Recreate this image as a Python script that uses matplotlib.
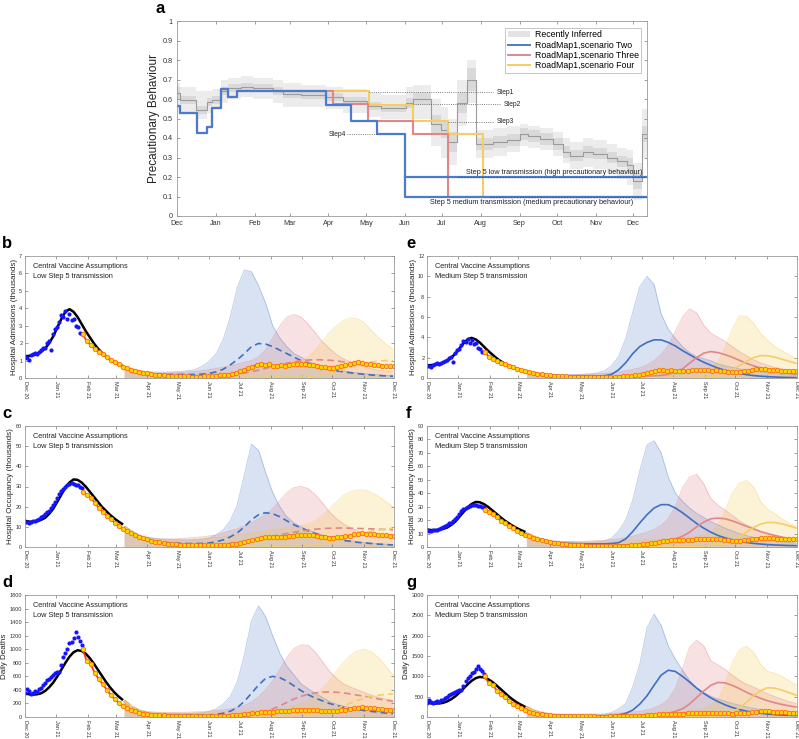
import numpy as np
import matplotlib
matplotlib.use("Agg")
from matplotlib import pyplot as plt
from matplotlib.patches import Patch
from matplotlib.lines import Line2D

plt.rcParams['font.family'] = ['Liberation Sans', 'DejaVu Sans']

# ---------------- panel a data (days since 1 Dec 2020) ----------------
a_month_days = [0, 31, 62, 90, 121, 151, 182, 212, 243, 274, 304, 335, 365]
a_month_labels = ['Dec', 'Jan', 'Feb', 'Mar', 'Apr', 'May', 'Jun', 'Jul', 'Aug',
                  'Sep', 'Oct', 'Nov', 'Dec']

inf_days = [0, 2, 15, 24, 28, 35, 41, 51, 61, 77, 85, 99, 119, 133, 152, 163, 183, 189,
            203, 211, 217, 224, 232, 239, 253, 264, 274, 281, 290, 301, 309, 314, 325,
            333, 344, 352, 360, 365, 372, 376]
inf_mid = [0.63, 0.595, 0.545, 0.585, 0.595, 0.64, 0.655, 0.66, 0.655, 0.64, 0.625, 0.62,
           0.61, 0.59, 0.565, 0.555, 0.58, 0.60, 0.47, 0.44, 0.38, 0.58, 0.70, 0.37, 0.38,
           0.39, 0.42, 0.41, 0.395, 0.37, 0.33, 0.31, 0.33, 0.32, 0.30, 0.28, 0.26, 0.18,
           0.42, 0.42]
inf_inner_lo = [0.60, 0.575, 0.525, 0.565, 0.575, 0.62, 0.635, 0.64, 0.635, 0.62, 0.605,
                0.60, 0.59, 0.57, 0.545, 0.535, 0.555, 0.57, 0.42, 0.40, 0.33, 0.53, 0.64,
                0.34, 0.35, 0.36, 0.39, 0.38, 0.365, 0.34, 0.30, 0.28, 0.30, 0.29, 0.27,
                0.25, 0.22, 0.14, 0.38, 0.38]
inf_inner_hi = [0.66, 0.615, 0.565, 0.605, 0.615, 0.66, 0.675, 0.68, 0.675, 0.66, 0.645,
                0.64, 0.63, 0.61, 0.585, 0.575, 0.605, 0.63, 0.52, 0.48, 0.43, 0.63, 0.76,
                0.40, 0.41, 0.42, 0.45, 0.44, 0.425, 0.40, 0.36, 0.34, 0.36, 0.35, 0.33,
                0.31, 0.30, 0.22, 0.46, 0.46]
inf_outer_lo = [0.55, 0.53, 0.50, 0.53, 0.55, 0.58, 0.60, 0.61, 0.60, 0.58, 0.56, 0.56,
                0.55, 0.53, 0.51, 0.50, 0.50, 0.50, 0.36, 0.30, 0.26, 0.46, 0.58, 0.30,
                0.31, 0.33, 0.36, 0.35, 0.34, 0.31, 0.27, 0.24, 0.25, 0.24, 0.22, 0.19,
                0.16, 0.08, 0.30, 0.30]
inf_outer_hi = [0.68, 0.66, 0.64, 0.64, 0.65, 0.70, 0.71, 0.72, 0.71, 0.70, 0.68, 0.67,
                0.66, 0.65, 0.63, 0.62, 0.66, 0.67, 0.60, 0.56, 0.50, 0.70, 0.80, 0.44,
                0.45, 0.46, 0.47, 0.46, 0.45, 0.43, 0.40, 0.38, 0.40, 0.39, 0.37, 0.35,
                0.34, 0.27, 0.55, 0.55]

rm_blue_days = [0, 2, 16, 24, 28, 35, 41, 48, 119, 139, 160, 182, 376]
rm_blue_vals = [0.565, 0.53, 0.425, 0.455, 0.555, 0.65, 0.61, 0.64, 0.57, 0.485, 0.42, 0.10, 0.10]
rm_red_days = [0, 2, 16, 24, 28, 35, 41, 48, 125, 153, 189, 217, 376]
rm_red_vals = [0.565, 0.53, 0.425, 0.455, 0.555, 0.65, 0.61, 0.64, 0.575, 0.485, 0.42, 0.10, 0.10]
rm_yel_days = [0, 2, 16, 24, 28, 35, 41, 48, 153.5, 188.6, 217, 245, 376]
rm_yel_vals = [0.565, 0.53, 0.425, 0.455, 0.555, 0.65, 0.61, 0.64, 0.57, 0.485, 0.42, 0.10, 0.10]
step5_start, step5_end = 182, 376
step5_low, step5_med = 0.2, 0.1

step_names = ['Step1', 'Step2', 'Step3', 'Step4']
step_levels = [0.635, 0.572, 0.484, 0.418]
step_from = [153.5, 188.6, 217, 136]
step_to = [253, 258, 253, 160]
step_text_x = [256, 261, 256, 135]

# ---------------- projection panels data ----------------
proj_month_labels = ['Dec 20', 'Jan 21', 'Feb 21', 'Mar 21', 'Apr 21', 'May 21', 'Jun 21',
                     'Jul 21', 'Aug 21', 'Sep 21', 'Oct 21', 'Nov 21', 'Dec 21']
proj_days = np.arange(98, 365, 7)          # weekly projection grid, 9 Mar .. 30 Nov
blue_obs_days = np.arange(0, 57, 2)        # older observations
recent_days = np.arange(57, 366, 4)        # recent observations
fit_days = np.arange(0, 97, 4)             # model fit

# admissions (thousands)
adm_blue_obs = [1.2, 1.15, 1.05, 1.3, 1.4, 1.45, 1.35, 1.5, 1.6, 1.7,
                1.75, 2.0, 2.1, 1.6, 2.5, 2.8, 2.9, 3.2, 3.6, 3.5,
                3.85, 3.4, 3.7, 3.35, 3.4, 3.0, 2.9, 2.6, 2.55]
adm_fit = [1.25, 1.27, 1.3, 1.38, 1.5, 1.7, 2.0, 2.4, 2.9, 3.4,
           3.8, 3.95, 3.8, 3.5, 3.1, 2.7, 2.35, 2.0, 1.7, 1.45,
           1.25, 1.07, 0.92, 0.8, 0.7]
adm_recent = [2.55, 2.1, 1.9, 1.65, 1.5, 1.35, 1.2, 1.05, 0.9, 0.78,
              0.65, 0.55, 0.48, 0.42, 0.35, 0.3, 0.26, 0.22, 0.2, 0.17,
              0.15, 0.13, 0.12, 0.11, 0.1, 0.09, 0.09, 0.08, 0.08, 0.08,
              0.09, 0.1, 0.11, 0.13, 0.15, 0.17, 0.2, 0.25, 0.3, 0.38,
              0.48, 0.55, 0.65, 0.75, 0.8, 0.72, 0.78, 0.68, 0.7, 0.72,
              0.7, 0.75, 0.78, 0.8, 0.78, 0.82, 0.72, 0.75, 0.68, 0.65,
              0.62, 0.6, 0.6, 0.62, 0.66, 0.72, 0.8, 0.88, 0.9, 0.85,
              0.82, 0.78, 0.75, 0.72, 0.7, 0.68, 0.67, 0.68]

adm_low_blue_hi = [0.55, 0.45, 0.40, 0.37, 0.35, 0.34, 0.34, 0.35, 0.37, 0.42,
                   0.48, 0.67, 0.95, 1.4, 2.2, 3.5, 5.2, 6.2, 6.1, 5.3,
                   4.3, 3.0, 2.3, 1.8, 1.4, 1.2, 0.95, 0.8, 0.68, 0.56,
                   0.47, 0.4, 0.34, 0.29, 0.25, 0.21, 0.18, 0.15, 0.13]
adm_low_red_hi = [0.45, 0.35, 0.3, 0.28, 0.27, 0.27, 0.28, 0.3, 0.32, 0.35,
                  0.38, 0.42, 0.48, 0.55, 0.62, 0.7, 0.8, 0.9, 1.0, 1.2,
                  1.6, 2.3, 3.0, 3.5, 3.65, 3.5, 3.1, 2.6, 2.1, 1.7,
                  1.35, 1.1, 0.9, 0.75, 0.62, 0.52, 0.45, 0.4, 0.36]
adm_low_yel_hi = [0.45, 0.35, 0.3, 0.27, 0.25, 0.25, 0.25, 0.25, 0.25, 0.25,
                  0.26, 0.27, 0.28, 0.3, 0.32, 0.35, 0.38, 0.42, 0.46, 0.5,
                  0.55, 0.6, 0.65, 0.7, 0.8, 0.95, 1.2, 1.6, 2.1, 2.6,
                  3.0, 3.3, 3.45, 3.4, 3.15, 2.7, 2.3, 1.95, 1.65]
adm_low_blue_med = [0.6, 0.47, 0.37, 0.3, 0.25, 0.22, 0.2, 0.2, 0.2, 0.2,
                    0.2, 0.22, 0.26, 0.35, 0.5, 0.75, 1.05, 1.4, 1.8, 1.98,
                    1.95, 1.8, 1.6, 1.4, 1.2, 1.0, 0.85, 0.72, 0.6, 0.5,
                    0.42, 0.35, 0.3, 0.25, 0.21, 0.17, 0.14, 0.12, 0.1]
adm_low_red_med = [0.6, 0.45, 0.34, 0.26, 0.2, 0.16, 0.13, 0.11, 0.1, 0.1,
                   0.1, 0.1, 0.1, 0.12, 0.14, 0.17, 0.22, 0.28, 0.36, 0.45,
                   0.55, 0.66, 0.76, 0.85, 0.93, 0.99, 1.03, 1.05, 1.04, 1.02,
                   0.98, 0.93, 0.88, 0.82, 0.77, 0.72, 0.67, 0.63, 0.6]
adm_low_yel_med = [0.6, 0.45, 0.33, 0.24, 0.17, 0.12, 0.08, 0.06, 0.05, 0.05,
                   0.05, 0.05, 0.05, 0.05, 0.05, 0.05, 0.05, 0.05, 0.05, 0.05,
                   0.05, 0.05, 0.05, 0.05, 0.05, 0.05, 0.08, 0.12, 0.18, 0.27,
                   0.38, 0.5, 0.62, 0.74, 0.84, 0.92, 0.97, 1.0, 1.0]

adm_med_blue_hi = [0.55, 0.45, 0.4, 0.37, 0.35, 0.34, 0.34, 0.35, 0.37, 0.42,
                   0.5, 0.7, 1.2, 2.1, 3.9, 6.5, 9.0, 10.0, 9.2, 6.3,
                   4.8, 3.9, 3.1, 2.5, 2.1, 1.9, 1.7, 1.4, 1.2, 1.05,
                   0.9, 0.8, 0.7, 0.6, 0.5, 0.42, 0.35, 0.3, 0.25]
adm_med_red_hi = [0.45, 0.35, 0.3, 0.28, 0.27, 0.27, 0.28, 0.3, 0.33, 0.36,
                  0.4, 0.45, 0.5, 0.6, 0.7, 0.85, 1.0, 1.3, 1.7, 2.3,
                  3.2, 4.6, 6.0, 6.8, 6.4, 5.2, 4.4, 4.0, 3.6, 3.1,
                  2.6, 2.2, 1.8, 1.5, 1.25, 1.05, 0.9, 0.8, 0.72]
adm_med_yel_hi = [0.45, 0.35, 0.3, 0.27, 0.25, 0.25, 0.25, 0.25, 0.25, 0.25,
                  0.25, 0.25, 0.25, 0.25, 0.25, 0.25, 0.25, 0.27, 0.3, 0.33,
                  0.37, 0.4, 0.45, 0.5, 0.6, 0.75, 1.0, 1.6, 3.0, 4.8,
                  6.1, 6.1, 5.4, 4.4, 3.7, 3.1, 2.7, 2.3, 1.9]
adm_med_blue_med = [0.6, 0.47, 0.37, 0.3, 0.25, 0.22, 0.2, 0.2, 0.2, 0.2,
                    0.2, 0.22, 0.35, 0.8, 1.5, 2.4, 3.1, 3.5, 3.75, 3.75,
                    3.5, 3.15, 2.7, 2.3, 1.9, 1.55, 1.25, 0.98, 0.76, 0.58,
                    0.44, 0.33, 0.24, 0.18, 0.13, 0.1, 0.07, 0.05, 0.04]
adm_med_red_med = [0.6, 0.45, 0.34, 0.26, 0.22, 0.19, 0.16, 0.14, 0.12, 0.1,
                   0.1, 0.1, 0.1, 0.1, 0.11, 0.12, 0.14, 0.17, 0.2, 0.25,
                   0.35, 0.55, 0.9, 1.45, 2.0, 2.45, 2.6, 2.5, 2.3, 2.05,
                   1.75, 1.45, 1.2, 1.0, 0.82, 0.67, 0.55, 0.45, 0.36]
adm_med_yel_med = [0.6, 0.45, 0.33, 0.25, 0.2, 0.16, 0.13, 0.1, 0.08, 0.07,
                   0.06, 0.05, 0.05, 0.04, 0.04, 0.04, 0.04, 0.04, 0.04, 0.04,
                   0.04, 0.04, 0.04, 0.05, 0.06, 0.08, 0.12, 0.2, 0.4, 0.75,
                   1.2, 1.65, 2.0, 2.2, 2.18, 2.05, 1.85, 1.65, 1.45]

# occupancy (thousands)
occ_blue_obs = [12.5, 12.2, 12.0, 12.3, 12.8, 13.0, 13.5, 14.0, 14.8, 15.5,
                16.5, 17.5, 18.0, 19.5, 21.0, 22.5, 24.5, 26.5, 28.0, 29.0,
                30.0, 30.5, 31.0, 31.5, 31.0, 30.5, 30.5, 30.0, 29.5]
occ_fit = [13, 12.6, 12.5, 12.8, 13.5, 14.5, 16.5, 19, 22.5, 26,
           29.5, 32, 33.5, 33.3, 32, 30, 27.5, 25, 22.5, 20,
           18, 16, 14.3, 12.8, 11.5]
occ_recent = [27.5, 26, 24.5, 22, 19.5, 17.5, 15.5, 14, 12, 10.5,
              9, 8, 7, 6, 5.2, 4.5, 3.8, 3.2, 2.7, 2.3,
              2, 1.7, 1.5, 1.3, 1.2, 1.1, 1, 0.9, 0.85, 0.8,
              0.8, 0.8, 0.85, 0.9, 1, 1.1, 1.2, 1.4, 1.6, 1.9,
              2.3, 2.8, 3.3, 3.9, 4.4, 4.8, 5, 5, 4.9, 5,
              5.2, 5.4, 5.6, 5.8, 6, 6.1, 6, 5.9, 5.6, 5.2,
              4.9, 4.7, 4.7, 4.8, 5, 5.3, 5.7, 6.2, 6.5, 6.7,
              6.6, 6.4, 6.2, 6, 5.9, 5.8, 5.7, 5.6]

occ_low_blue_hi = [10, 7.5, 6, 5, 4.5, 4, 3.8, 3.6, 3.5, 3.5,
                   3.6, 3.9, 4.5, 6, 8.5, 13, 21, 36, 51, 48,
                   37, 27, 20, 15, 12, 10, 8.5, 7.2, 6, 5,
                   4.2, 3.6, 3.1, 2.6, 2.2, 1.9, 1.6, 1.4, 1.2]
occ_low_red_hi = [8, 6, 5, 4.5, 4.2, 4, 4, 4, 4.2, 4.5,
                  4.8, 5, 5.5, 6, 7, 8, 9, 10.5, 12, 14,
                  16, 19, 23, 27, 29.5, 30, 29, 26, 22, 17.5,
                  14, 11.5, 9.5, 8, 7, 6, 5.3, 4.8, 4.4]
occ_low_yel_hi = [8, 6, 5, 4.3, 4, 3.8, 3.7, 3.6, 3.6, 3.7,
                  3.8, 4, 4.3, 4.6, 5, 5.5, 6, 6.5, 7, 7.5,
                  8, 8.5, 9, 9.5, 10, 10.5, 11.5, 13, 15.5, 19,
                  22.5, 25.5, 27.5, 28.3, 28.3, 27, 25, 22.5, 20]
occ_low_blue_med = [10, 7.5, 5.5, 4, 3.2, 2.6, 2.2, 2, 1.8, 1.7,
                    1.7, 1.8, 2, 2.6, 3.5, 5, 7, 10, 13.5, 16,
                    17, 16.5, 15, 13, 11, 9.5, 8, 6.7, 5.6, 4.7,
                    3.9, 3.3, 2.8, 2.3, 2, 1.7, 1.4, 1.2, 1.0]
occ_low_red_med = [10, 7.5, 5.5, 4, 3, 2.3, 1.8, 1.5, 1.3, 1.2,
                   1.1, 1.1, 1.1, 1.2, 1.4, 1.7, 2.1, 2.6, 3.2, 3.9,
                   4.6, 5.3, 6, 6.7, 7.3, 7.9, 8.4, 8.8, 9.1, 9.3,
                   9.4, 9.4, 9.3, 9.2, 9.1, 9.0, 8.8, 8.7, 8.5]
occ_low_yel_med = [10, 7.5, 5.5, 4, 3, 2.2, 1.6, 1.2, 0.9, 0.7,
                   0.6, 0.5, 0.45, 0.4, 0.4, 0.4, 0.4, 0.4, 0.4, 0.4,
                   0.4, 0.4, 0.4, 0.45, 0.5, 0.6, 0.8, 1.1, 1.6, 2.3,
                   3.2, 4.2, 5.3, 6.3, 7.2, 7.9, 8.5, 8.9, 9.2]

occ_med_blue_hi = [10, 7.5, 6, 5, 4.5, 4, 3.8, 3.6, 3.5, 3.6,
                   3.8, 4.5, 6.5, 12, 20, 35, 57, 76, 79, 70,
                   52, 40, 34, 29, 25, 22, 19, 16.5, 14, 12,
                   10, 8.5, 7.2, 6.2, 5.3, 4.5, 3.8, 3.3, 3.0]
occ_med_red_hi = [8, 6, 5, 4.5, 4.2, 4, 4, 4, 4.2, 4.5,
                  4.8, 5, 5.5, 6, 7, 8, 9.5, 11, 13, 16,
                  21, 30, 44, 52, 54, 47, 36, 31, 27.5, 23.5,
                  19.5, 16.5, 14, 11.5, 9.8, 8.3, 7, 6, 5]
occ_med_yel_hi = [8, 6, 5, 4.3, 4, 3.8, 3.7, 3.6, 3.6, 3.7,
                  3.8, 4, 4.2, 4.4, 4.6, 4.8, 5, 5.2, 5.5, 5.8,
                  6.2, 6.6, 7, 7.5, 8, 9, 11, 16, 27, 40,
                  47.5, 49.5, 45, 34, 28, 25, 21, 18, 15.5]
occ_med_blue_med = [10, 7.5, 5.5, 4.2, 3.4, 2.9, 2.6, 2.4, 2.3, 2.3,
                    2.3, 2.4, 2.6, 3.2, 6, 11.5, 18, 24, 29, 31.5,
                    31.5, 29, 25.5, 21.5, 17.5, 14, 11, 8.6, 6.8, 5.4,
                    4.3, 3.4, 2.7, 2.2, 1.8, 1.5, 1.3, 1.1, 1.0]
occ_med_red_med = [10, 7.5, 5.5, 4, 3, 2.3, 1.8, 1.5, 1.3, 1.2,
                   1.1, 1.1, 1.1, 1.2, 1.4, 1.7, 2.1, 2.6, 3.2, 3.9,
                   4.8, 6, 8, 11, 15, 18.5, 21, 21.5, 21, 19.5,
                   17.5, 15.5, 13.5, 11.5, 10, 8.6, 7.4, 6.3, 5.4]
occ_med_yel_med = [10, 7.5, 5.5, 4, 3, 2.2, 1.6, 1.2, 0.9, 0.7,
                   0.6, 0.5, 0.45, 0.4, 0.4, 0.4, 0.4, 0.4, 0.4, 0.4,
                   0.4, 0.4, 0.45, 0.5, 0.6, 0.8, 1.1, 1.6, 2.6, 4.5,
                   7.5, 11, 14.5, 17, 18.3, 18.2, 17.2, 15.8, 14.2]

# daily deaths
dth_blue_obs = [350, 420, 380, 340, 360, 390, 370, 410, 430, 470,
                500, 540, 560, 590, 620, 650, 670, 660, 760, 880,
                950, 1000, 1090, 1100, 1170, 1250, 1180, 1120, 1060]
dth_fit = [350, 335, 330, 335, 350, 385, 440, 510, 600, 700,
           800, 890, 955, 985, 975, 935, 870, 790, 700, 610,
           520, 440, 370, 310, 260]
dth_recent = [1000, 830, 780, 650, 560, 480, 400, 320, 260, 210,
              160, 130, 100, 85, 65, 50, 42, 36, 30, 26,
              24, 22, 20, 18, 16, 15, 14, 13, 12, 12,
              12, 13, 14, 15, 16, 18, 20, 24, 28, 33,
              40, 48, 55, 62, 68, 72, 75, 78, 82, 86,
              90, 95, 100, 105, 108, 110, 108, 104, 98, 92,
              88, 86, 88, 92, 100, 110, 122, 132, 140, 142,
              138, 132, 126, 120, 115, 110, 106, 102]

dth_low_blue_hi = [200, 120, 90, 70, 60, 55, 52, 50, 50, 52,
                   55, 62, 80, 120, 190, 300, 520, 920, 1420, 1640,
                   1480, 1200, 940, 750, 620, 490, 420, 350, 290, 230,
                   190, 160, 140, 125, 115, 100, 90, 80, 70]
dth_low_red_hi = [200, 130, 100, 85, 75, 70, 68, 68, 70, 72,
                  75, 80, 85, 95, 105, 120, 140, 170, 220, 300,
                  400, 530, 700, 880, 1010, 1065, 1060, 960, 820, 680,
                  570, 490, 440, 400, 360, 320, 290, 265, 245]
dth_low_yel_hi = [200, 130, 95, 80, 70, 65, 62, 60, 60, 60,
                  62, 64, 66, 70, 75, 80, 85, 90, 95, 100,
                  110, 120, 135, 150, 170, 200, 250, 320, 420, 540,
                  680, 810, 910, 980, 1000, 960, 870, 750, 620]
dth_low_blue_med = [240, 150, 95, 65, 48, 38, 33, 30, 28, 27,
                    27, 28, 30, 38, 55, 85, 140, 230, 350, 470,
                    570, 600, 580, 530, 460, 390, 330, 280, 240, 200,
                    170, 145, 125, 108, 95, 82, 70, 58, 48]
dth_low_red_med = [240, 150, 95, 62, 45, 34, 27, 23, 20, 19,
                   18, 18, 18, 19, 20, 22, 26, 32, 42, 60,
                   85, 120, 165, 215, 265, 305, 335, 355, 367, 370,
                   365, 355, 340, 322, 305, 285, 265, 248, 232]
dth_low_yel_med = [240, 150, 95, 62, 44, 32, 25, 20, 18, 16,
                   15, 14, 14, 14, 14, 14, 14, 14, 14, 14,
                   14, 15, 16, 18, 21, 26, 34, 46, 64, 90,
                   125, 165, 205, 245, 280, 305, 322, 335, 342]

dth_med_blue_hi = [200, 120, 90, 70, 60, 55, 52, 50, 50, 52,
                   55, 62, 110, 200, 330, 740, 1310, 2200, 2530, 2250,
                   1750, 1420, 1150, 900, 720, 600, 510, 440, 390, 335,
                   290, 250, 215, 185, 160, 135, 115, 98, 82]
dth_med_red_hi = [200, 130, 100, 85, 75, 70, 68, 68, 70, 72,
                  75, 80, 85, 95, 105, 120, 140, 170, 220, 300,
                  430, 700, 1180, 1720, 1890, 1750, 1380, 1280, 1170, 1030,
                  910, 800, 740, 650, 570, 500, 440, 380, 330]
dth_med_yel_hi = [200, 130, 95, 80, 70, 65, 62, 60, 60, 60,
                  62, 64, 66, 70, 75, 80, 85, 90, 95, 100,
                  110, 120, 135, 150, 170, 200, 280, 430, 800, 1350,
                  1650, 1740, 1600, 1300, 1120, 1080, 1000, 900, 790]
dth_med_blue_med = [240, 150, 95, 65, 48, 38, 33, 30, 28, 27,
                    27, 28, 32, 50, 90, 170, 320, 520, 780, 1030,
                    1150, 1120, 1000, 860, 710, 580, 470, 380, 300, 235,
                    185, 145, 115, 90, 72, 58, 48, 42, 38]
dth_med_red_med = [240, 150, 95, 62, 45, 34, 27, 23, 20, 19,
                   18, 18, 18, 19, 20, 22, 26, 32, 42, 60,
                   90, 140, 200, 320, 480, 640, 780, 850, 840, 780,
                   700, 610, 530, 460, 400, 350, 310, 275, 245]
dth_med_yel_med = [240, 150, 95, 62, 44, 32, 25, 20, 18, 16,
                   15, 14, 14, 14, 14, 14, 14, 14, 14, 14,
                   14, 15, 16, 18, 20, 24, 30, 45, 70, 120,
                   220, 360, 520, 650, 720, 710, 660, 600, 540]

# ---------------- style ----------------
C_BLUE, C_RED, C_YEL = '#3f70c2', '#e0878a', '#f5cd62'
FILL_BLUE, FILL_RED, FILL_YEL = '#3f6fbf', '#dd6a6e', '#f4c030'

W, H = 799, 739
fig = plt.figure(figsize=(W / 100, H / 100), dpi=100)


def box(l, t, r, b):
    return [l / W, 1 - b / H, (r - l) / W, (b - t) / H]


def style(ax, size):
    for s in ax.spines.values():
        s.set_color('#9a9a9a')
        s.set_linewidth(0.6)
    ax.tick_params(direction='in', length=2.5, width=0.5, top=True, right=True,
                   colors='#777777', labelcolor='#333333', labelsize=size, pad=2)


# ---------------- panel a ----------------
ax = fig.add_axes(box(177, 21, 647, 216))
ax.fill_between(inf_days, inf_outer_lo, inf_outer_hi, step='post', color='#ececec', lw=0)
ax.fill_between(inf_days, inf_inner_lo, inf_inner_hi, step='post', color='#d9d9d9', lw=0)
ax.step(inf_days, inf_mid, where='post', color='#9b9b9b', lw=0.8)

ax.step(rm_yel_days, rm_yel_vals, where='post', color=C_YEL, lw=1.5)
ax.step(rm_red_days, rm_red_vals, where='post', color=C_RED, lw=1.5)
ax.step(rm_blue_days, rm_blue_vals, where='post', color='#4a7bcc', lw=1.6)
ax.plot([step5_start, step5_end], [step5_low, step5_low], color='#4a7bcc', lw=1.6)
ax.plot([225, step5_end], [step5_low, step5_low], ':', color='#2f4f80', lw=0.8)
ax.plot([250, step5_end], [step5_med, step5_med], ':', color='#2f4f80', lw=0.8)

for name, lev, x0, x1, tx in zip(step_names, step_levels, step_from, step_to, step_text_x):
    ax.plot([x0, x1], [lev, lev], ':', color='#555555', lw=0.6)
    ax.text(tx, lev, name, fontsize=4.8, va='center',
            ha='right' if tx < x0 else 'left', color='#222222')

ax.text(372, 0.222, 'Step 5 low transmission (high precautionary behaviour)',
        fontsize=5.2, ha='right', va='center', color='#222222')
ax.text(365, 0.067, 'Step 5 medium transmission (medium precautionary behaviour)',
        fontsize=5.2, ha='right', va='center', color='#222222')

ax.set_xlim(0, 376)
ax.set_ylim(0, 1)
ax.set_xticks(a_month_days)
ax.set_xticklabels(a_month_labels)
ax.set_yticks(np.arange(0, 1.01, 0.1))
ax.set_yticklabels(['0', '0.1', '0.2', '0.3', '0.4', '0.5', '0.6', '0.7', '0.8', '0.9', '1'])
ax.set_ylabel('Precautionary Behaviour', fontsize=8.5, labelpad=2, color='#222222')
style(ax, 5.2)
ax.tick_params(axis='y', pad=3)
ax.tick_params(axis='x', pad=3)

handles = [Patch(facecolor='#e3e3e3', edgecolor='none'),
           Line2D([], [], color='#4a7bcc', lw=1.4),
           Line2D([], [], color=C_RED, lw=1.4),
           Line2D([], [], color=C_YEL, lw=1.4)]
labels = ['Recently Inferred', 'RoadMap1,scenario Two', 'RoadMap1,scenario Three',
          'RoadMap1,scenario Four']
leg = ax.legend(handles, labels, loc='upper right', bbox_to_anchor=(0.992, 0.975),
                fontsize=6.3, frameon=True, fancybox=False, edgecolor='#aaaaaa',
                borderpad=0.3, handlelength=2.6, handletextpad=0.5, labelspacing=0.15,
                borderaxespad=0.2)
leg.get_frame().set_linewidth(0.6)
fig.text(155 / W, 1 - 13 / H, 'a', fontsize=12, fontweight='bold', va='baseline')


# ---------------- projection panels ----------------
def proj_panel(rect, letter, letter_x, ylab, ymax, ystep, his, meds, dashed, obs, subtitle):
    ax = fig.add_axes(rect)
    for hi, c in zip(his, [FILL_BLUE, FILL_RED, FILL_YEL]):
        ax.fill_between(proj_days, 0, hi, color=c, alpha=0.2, lw=0)
        ax.plot(proj_days, hi, color=c, alpha=0.35, lw=0.6)
    ls = (0, (4, 2.5)) if dashed else '-'
    # shared start of the projection
    ax.plot(proj_days[:4], meds[0][:4], color='#d8c49a', lw=2.6, alpha=0.8,
            solid_capstyle='butt')
    for med, c in zip(meds, [C_BLUE, C_RED, C_YEL]):
        ax.plot(proj_days, med, color=c, lw=1.2, linestyle=ls)
    blue_obs, fit, recent = obs
    ax.plot(fit_days, fit, color='black', lw=1.8)
    ax.plot(blue_obs_days, blue_obs, 'o', color='#1414ff', ms=3.0, mec='none')
    ax.plot(recent_days, recent, '-', color='#ff3a10', lw=1.3)
    ax.plot(recent_days, recent, 'o', ms=3.2, mfc='#ffd400', mec='#ff6a10', mew=0.6)
    ax.set_xlim(0, 365)
    ax.set_ylim(0, ymax)
    ax.set_yticks(np.arange(0, ymax + ystep / 2, ystep))
    ax.set_xticks(a_month_days)
    ax.set_xticklabels(proj_month_labels, rotation=-90, ha='center', va='top')
    ax.set_ylabel(ylab, fontsize=5.8, labelpad=1, color='#222222')
    style(ax, 4.0)
    ax.text(0.022, 0.94, 'Central Vaccine Assumptions\n' + subtitle, transform=ax.transAxes,
            fontsize=5.3, va='top', ha='left', linespacing=1.55, color='#222222')
    top = (1 - rect[1] - rect[3]) * H
    fig.text(letter_x / W, 1 - (top - 8) / H, letter, fontsize=12, fontweight='bold',
             va='baseline')
    return ax


rows = [(256, 378), (426, 547), (595, 717)]
cols = [(25, 394), (427, 797)]

adm_obs = (adm_blue_obs, adm_fit, adm_recent)
occ_obs = (occ_blue_obs, occ_fit, occ_recent)
dth_obs = (dth_blue_obs, dth_fit, dth_recent)

proj_panel(box(cols[0][0], rows[0][0], cols[0][1], rows[0][1]), 'b', 2,
           'Hospital Admissions (thousands)', 7, 1,
           [adm_low_blue_hi, adm_low_red_hi, adm_low_yel_hi],
           [adm_low_blue_med, adm_low_red_med, adm_low_yel_med], True, adm_obs,
           'Low Step 5 transmission')
proj_panel(box(cols[0][0], rows[1][0], cols[0][1], rows[1][1]), 'c', 2,
           'Hospital Occupancy (thousands)', 60, 10,
           [occ_low_blue_hi, occ_low_red_hi, occ_low_yel_hi],
           [occ_low_blue_med, occ_low_red_med, occ_low_yel_med], True, occ_obs,
           'Low Step 5 transmission')
proj_panel(box(cols[0][0], rows[2][0], cols[0][1], rows[2][1]), 'd', 2,
           'Daily Deaths', 1800, 200,
           [dth_low_blue_hi, dth_low_red_hi, dth_low_yel_hi],
           [dth_low_blue_med, dth_low_red_med, dth_low_yel_med], True, dth_obs,
           'Low Step 5 transmission')
proj_panel(box(cols[1][0], rows[0][0], cols[1][1], rows[0][1]), 'e', 406,
           'Hospital Admissions (thousands)', 12, 2,
           [adm_med_blue_hi, adm_med_red_hi, adm_med_yel_hi],
           [adm_med_blue_med, adm_med_red_med, adm_med_yel_med], False, adm_obs,
           'Medium Step 5 transmission')
proj_panel(box(cols[1][0], rows[1][0], cols[1][1], rows[1][1]), 'f', 406,
           'Hospital Occupancy (thousands)', 90, 10,
           [occ_med_blue_hi, occ_med_red_hi, occ_med_yel_hi],
           [occ_med_blue_med, occ_med_red_med, occ_med_yel_med], False, occ_obs,
           'Medium Step 5 transmission')
proj_panel(box(cols[1][0], rows[2][0], cols[1][1], rows[2][1]), 'g', 406,
           'Daily Deaths', 3000, 500,
           [dth_med_blue_hi, dth_med_red_hi, dth_med_yel_hi],
           [dth_med_blue_med, dth_med_red_med, dth_med_yel_med], False, dth_obs,
           'Medium Step 5 transmission')

fig.savefig('out.png', dpi=100, facecolor='white')
